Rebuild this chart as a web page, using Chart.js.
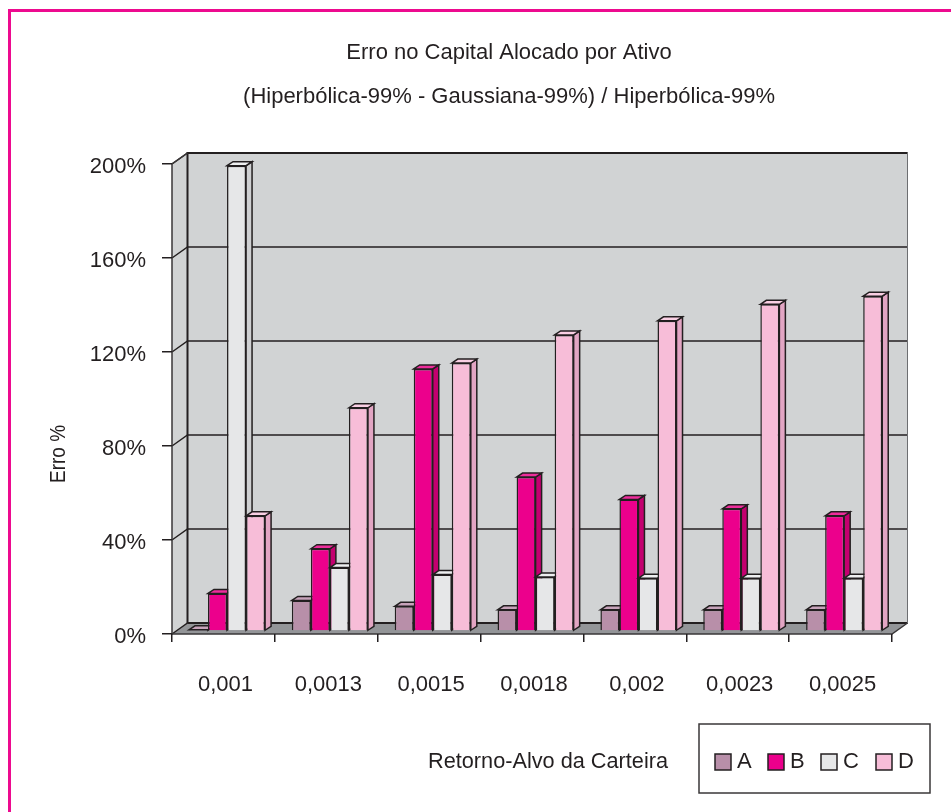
<!DOCTYPE html>
<html><head><meta charset="utf-8">
<style>html,body{margin:0;padding:0;background:#fff}canvas{display:block}</style>
<script src="https://cdn.jsdelivr.net/npm/chart.js@4"></script>
</head><body><div style="width:951px;height:812px"><canvas id="c"></canvas></div>
<script>
const categories = ['0,001','0,0013','0,0015','0,0018','0,002','0,0023','0,0025'];
const serieA = [0.5,13,10.5,9,9,9,9];
const serieB = [16,35,111.5,65.5,56,52,49];
const serieC = [198,27,24,23,22.5,22.5,22.5];
const serieD = [49,95,114,126,132,139,142.5];
const seriesNames = ['A','B','C','D'];
const titleLines = ['Erro no Capital Alocado por Ativo','(Hiperbólica-99% - Gaussiana-99%) / Hiperbólica-99%'];
const xTitle = 'Retorno-Alvo da Carteira';
const yTitle = 'Erro %';
const FONT = '"Liberation Sans",sans-serif';
const INK = '#231f20';
const faces = [
  {front:'#b88fa9',side:'#a47b95',top:'#c7a3ba'},
  {front:'#ec008c',side:'#c4006f',top:'#ee2d9c'},
  {front:'#e6e7e8',side:'#cfd0d2',top:'#eeeff0'},
  {front:'#f7bdd8',side:'#e2a5c3',top:'#f9cfe3'}
];
const DEPTH = {x:15.5,y:11}, BAR = {x:6,y:4}, SHIFT = {x:3.6,y:-3};

function poly(ctx,pts,fill,stroke,lw){
  ctx.beginPath();pts.forEach((p,i)=>i?ctx.lineTo(p[0],p[1]):ctx.moveTo(p[0],p[1]));ctx.closePath();
  if(fill){ctx.fillStyle=fill;ctx.fill();}
  if(stroke){ctx.strokeStyle=stroke;ctx.lineWidth=lw||1.5;ctx.lineJoin='miter';ctx.stroke();}
}
const scene = {
  id:'scene',
  afterLayout(chart){
    // the title sits over the plot, off the canvas centre
    chart.titleBlock.left += 63;
    chart.titleBlock.right += 63;
  },
  beforeDraw(chart){
    const {ctx,chartArea:a,scales:{y}} = chart;
    ctx.save();
    ctx.strokeStyle='#ed0a8f';ctx.lineWidth=3;
    ctx.beginPath();ctx.moveTo(9.5,812);ctx.lineTo(9.5,10.5);ctx.lineTo(951,10.5);ctx.stroke();
    const L=a.left,R=a.right,T=a.top,B=a.bottom,dx=DEPTH.x,dy=DEPTH.y;
    poly(ctx,[[L+dx,T-dy],[R+dx,T-dy],[R+dx,B-dy],[L+dx,B-dy]],'#d1d3d4');
    poly(ctx,[[L,T],[L+dx,T-dy],[L+dx,B-dy],[L,B]],'#d1d3d4');
    poly(ctx,[[L,B],[L+dx,B-dy],[R+dx,B-dy],[R,B]],'#939598');
    y.ticks.forEach(t=>{
      const p=y.getPixelForValue(t.value);
      ctx.strokeStyle=INK;ctx.lineWidth=1.5;ctx.beginPath();
      ctx.moveTo(L,p);ctx.lineTo(L+dx,p-dy);ctx.lineTo(R+dx,p-dy);ctx.stroke();
    });
    ctx.strokeStyle=INK;ctx.lineWidth=2;
    ctx.beginPath();ctx.moveTo(L+dx,B-dy);ctx.lineTo(L+dx,T-dy);ctx.lineTo(R+dx,T-dy);ctx.stroke();
    ctx.beginPath();ctx.moveTo(L+dx,B-dy);ctx.lineTo(R+dx,B-dy);ctx.stroke();
    ctx.lineWidth=1.5;ctx.strokeStyle='#3a3738';
    ctx.beginPath();ctx.moveTo(L,B);ctx.lineTo(L,T);ctx.lineTo(L+dx,T-dy);ctx.stroke();
    ctx.beginPath();ctx.moveTo(L,B);ctx.lineTo(R,B);ctx.lineTo(R+dx,B-dy);ctx.stroke();
    ctx.lineWidth=1;ctx.strokeStyle='#6d6e71';
    ctx.beginPath();ctx.moveTo(R+dx,B-dy);ctx.lineTo(R+dx,T-dy);ctx.stroke();
    ctx.restore();
  },
  beforeDatasetsDraw(chart){
    const ctx=chart.ctx;
    // paint left to right, each bar's depth faces first, so nearer bars cover them as in the original
    chart.getSortedVisibleDatasetMetas().forEach(meta=>{
      const f=faces[meta.index];
      ctx.save();ctx.translate(SHIFT.x,SHIFT.y);
      meta.data.forEach(el=>{
        const hw=el.width/2,l=el.x-hw,r=el.x+hw,t=el.y,b=el.base;
        poly(ctx,[[r,b],[r+BAR.x,b-BAR.y],[r+BAR.x,t-BAR.y],[r,t]],f.side,INK,1.5);
        poly(ctx,[[l,t],[l+BAR.x,t-BAR.y],[r+BAR.x,t-BAR.y],[r,t]],f.top,INK,1.5);
      });
      meta.controller.draw();
      ctx.restore();
    });
    return false;
  },
  afterDraw(chart){
    const ctx=chart.ctx;
    ctx.save();
    ctx.fillStyle=INK;ctx.font='22px '+FONT;ctx.textBaseline='middle';ctx.textAlign='left';
    ctx.fillText(xTitle,428,762,240);
    ctx.save();ctx.translate(59,454);ctx.rotate(-Math.PI/2);ctx.textAlign='center';ctx.fillText(yTitle,0,0,58);ctx.restore();
    ctx.strokeStyle='#3a3738';ctx.lineWidth=1.5;ctx.strokeRect(699,724,231,69);
    const bx=[715,768,821,876];
    chart.data.datasets.forEach((d,i)=>{
      ctx.fillStyle=d.backgroundColor;ctx.strokeStyle=INK;ctx.lineWidth=1.5;
      ctx.fillRect(bx[i],754,16,16);ctx.strokeRect(bx[i],754,16,16);
      ctx.fillStyle=INK;ctx.fillText(d.label,bx[i]+22,762);
    });
    ctx.restore();
  }
};
const values=[serieA,serieB,serieC,serieD];
new Chart(document.getElementById('c'),{
  type:'bar',
  data:{labels:categories,datasets:seriesNames.map((n,i)=>({
    label:n,data:values[i],backgroundColor:faces[i].front,borderColor:INK,borderWidth:1.5,
    categoryPercentage:0.74,barPercentage:1
  }))},
  options:{
    responsive:true,maintainAspectRatio:false,animation:false,
    layout:{padding:{left:0,right:59,top:0,bottom:0}},
    plugins:{
      legend:{display:false},
      tooltip:{enabled:false},
      title:{display:true,text:titleLines,color:INK,font:{family:FONT,size:22,weight:'normal',lineHeight:2},padding:{top:31,bottom:45}}
    },
    scales:{
      x:{
        afterFit(s){s.height=178;},
        grid:{drawOnChartArea:false,drawTicks:true,tickLength:8,color:INK,lineWidth:1.5},
        border:{display:false},
        ticks:{color:INK,padding:30,labelOffset:2,maxRotation:0,font:{family:FONT,size:22}}
      },
      y:{
        min:0,max:200,
        afterFit(s){s.width=172;},
        grid:{drawOnChartArea:false,tickLength:10,color:INK,lineWidth:1.5},
        border:{display:false},
        ticks:{stepSize:40,padding:16,labelOffset:3,color:INK,font:{family:FONT,size:22},callback:v=>v+'%'}
      }
    }
  },
  plugins:[scene]
});
</script></body></html>
